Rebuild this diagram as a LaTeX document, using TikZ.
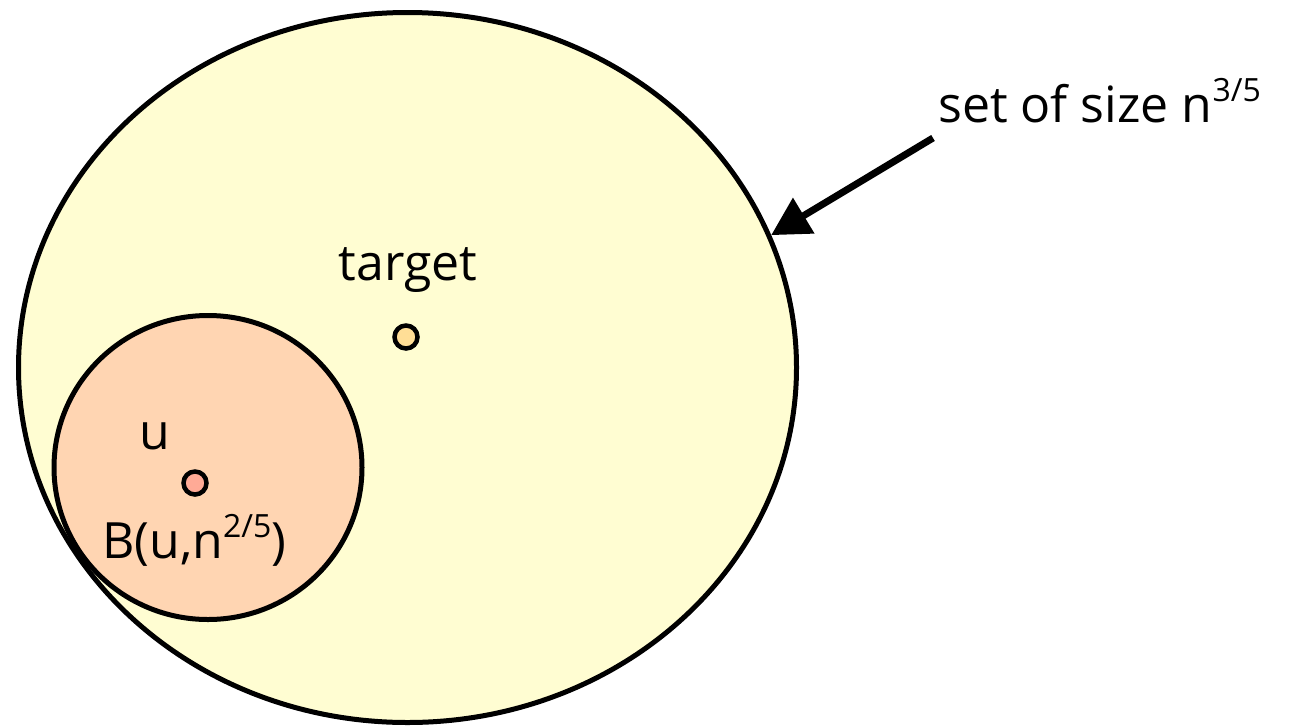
\documentclass[tikz,border=0pt]{standalone}
\usepackage{fontspec}
\setmainfont{Open Sans}
\usetikzlibrary{shapes.geometric,arrows.meta}
\definecolor{bigfill}{RGB}{255,253,210}
\definecolor{ballfill}{RGB}{255,213,178}
\definecolor{udot}{RGB}{255,170,150}
\definecolor{tdot}{RGB}{255,222,150}
\newcommand{\mysup}[1]{\raisebox{0.75ex}{\fontsize{32}{36}\selectfont #1}}
\tikzset{
  region/.style={ellipse, draw=black, line width=5pt, inner sep=0pt},
  dot/.style={circle, draw=black, line width=4.5pt, minimum size=23pt, inner sep=0pt},
  lbl/.style={font=\fontsize{50}{58}\selectfont, inner sep=0pt},
}
\begin{document}
\begin{tikzpicture}[x=1pt,y=-1pt]
\useasboundingbox (0,0) rectangle (1313,726);
\node[region, fill=bigfill, minimum width=778pt, minimum height=710pt] (big) at (407.5,367.5) {};
\node[region, fill=ballfill, minimum width=308pt, minimum height=304pt] (ball) at (208,467.5) {};
\node[dot, fill=tdot] (target) at (406,337) {};
\node[dot, fill=udot] (u) at (195,483) {};
\node[lbl] (tlabel) at (408,270) {target};
\node[lbl] (ulabel) at (155,436) {u};
\node[lbl, anchor=base west] (blabel) at (102,558) {B(u,n\mysup{2/5})};
\node[lbl, anchor=base west] (slabel) at (938,122) {set of size n\mysup{3/5}};
\coordinate (astart) at (933,138);
\draw[line width=7pt, -{Triangle[length=38pt,width=40pt]}] (astart) -- (big.20.5);
\end{tikzpicture}
\end{document}
